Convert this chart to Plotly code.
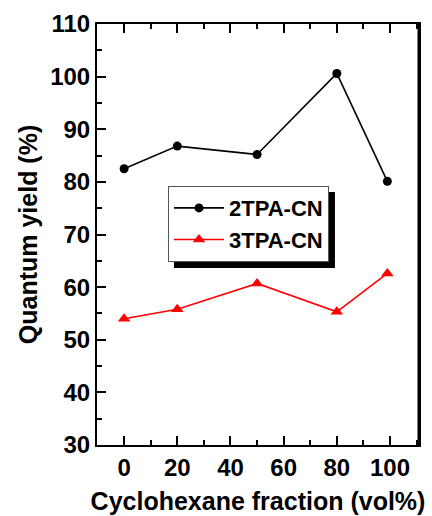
import plotly.graph_objects as go

# Cyclohexane fraction in the solvent mixture (vol%)
fraction = [0, 20, 50, 80, 99]

# Photoluminescence quantum yields (%)
qy_2tpa = [82.5, 86.8, 85.2, 100.6, 80.1]
qy_3tpa = [54.0, 55.8, 60.7, 55.3, 62.6]

series_names = ["2TPA-CN", "3TPA-CN"]
x_ticks = [0, 20, 40, 60, 80, 100]
y_ticks = [30, 40, 50, 60, 70, 80, 90, 100, 110]

FONT = "Liberation Sans, Arial, sans-serif"

fig = go.Figure()
fig.add_trace(go.Scatter(
    x=fraction, y=qy_2tpa, name=series_names[0], mode="lines+markers",
    line=dict(color="black", width=1.6),
    marker=dict(symbol="circle", size=9, color="black"),
))
fig.add_trace(go.Scatter(
    x=fraction, y=qy_3tpa, name=series_names[1], mode="lines+markers",
    line=dict(color="#ff0000", width=1.6),
    marker=dict(symbol="triangle-up", size=11, color="#ff0000"),
))

axis_common = dict(
    showgrid=False, zeroline=False, showline=True, linecolor="black", linewidth=2,
    ticks="inside", ticklen=9, tickwidth=2, tickcolor="black", automargin=False,
    tickfont=dict(family=FONT, size=24, color="black", weight="bold"),
    title_font=dict(family=FONT, size=25, color="black", weight="bold"),
)

fig.update_xaxes(
    range=[-10.2, 110.9], tickvals=x_ticks, mirror="ticks",
    minor=dict(dtick=10, ticks="inside", ticklen=5, tickwidth=2, tickcolor="black"),
    title_text="Cyclohexane fraction (vol%)", title_standoff=13,
    **axis_common,
)
fig.update_yaxes(
    range=[30, 110], tickvals=y_ticks, mirror=True,
    minor=dict(dtick=5, ticks="inside", ticklen=5, tickwidth=2, tickcolor="black"),
    title_text="Quantum yield (%)", title_standoff=5,
    **axis_common,
)

# heavier right-hand frame edge
fig.add_shape(type="line", xref="paper", yref="paper", x0=1, x1=1, y0=0, y1=1,
              line=dict(color="black", width=3))

# drop shadow behind the legend box
fig.add_shape(type="rect", xref="paper", yref="paper",
              x0=0.239, x1=0.739, y0=0.4204, y1=0.601,
              fillcolor="black", line=dict(width=0), layer="above")

fig.update_layout(
    width=432, height=516,
    margin=dict(l=97, r=13, t=24, b=71),
    plot_bgcolor="white", paper_bgcolor="white",
    legend=dict(
        x=0.2205, y=0.615, xanchor="left", yanchor="top",
        bgcolor="white", bordercolor="#555555", borderwidth=1,
        font=dict(family=FONT, size=22, color="black", weight="bold"),
        tracegroupgap=0, itemwidth=50,
    ),
)

fig.write_html("out.html")
